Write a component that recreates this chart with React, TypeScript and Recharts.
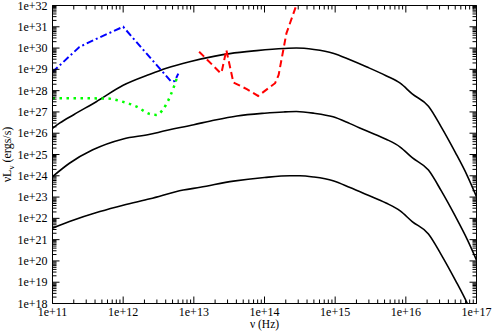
import { LineChart, Line, XAxis, YAxis } from "recharts";

// values are log10(nu [Hz]) and log10(nu L_nu [erg/s])
const nuTop = [11, 11.1, 11.3, 11.62, 12.0, 12.38, 12.61, 12.94, 13.3, 13.51, 13.89, 14.27, 14.45, 14.7, 14.97, 15.21, 15.45, 15.72, 15.92, 16.09, 16.32, 16.5, 16.7, 16.87, 17.0];
const lTop = [26.23, 26.47, 26.87, 27.48, 28.25, 28.77, 29.05, 29.36, 29.62, 29.74, 29.88, 29.98, 30.0, 29.93, 29.76, 29.45, 29.11, 28.7, 28.35, 27.85, 27.27, 26.3, 25.1, 24.0, 23.02];

const nuMid = [11, 11.24, 11.57, 12.0, 12.38, 12.52, 13.0, 13.3, 13.61, 14.0, 14.27, 14.45, 14.7, 14.97, 15.21, 15.45, 15.72, 15.92, 16.09, 16.32, 16.5, 16.7, 16.87, 17.0];
const lMid = [23.96, 24.59, 25.22, 25.73, 25.95, 26.06, 26.4, 26.62, 26.81, 26.94, 27.0, 27.02, 26.94, 26.77, 26.45, 26.1, 25.72, 25.35, 24.85, 24.27, 23.3, 22.1, 21.0, 20.04];

const nuLow = [11, 11.24, 11.67, 12.0, 12.38, 12.85, 13.09, 13.56, 14.0, 14.36, 14.5, 14.7, 14.97, 15.21, 15.45, 15.72, 15.92, 16.09, 16.32, 16.5, 16.7, 16.87, 17.0];
const lLow = [21.54, 21.85, 22.32, 22.62, 22.92, 23.33, 23.46, 23.75, 23.92, 24.0, 24.0, 23.94, 23.77, 23.45, 23.11, 22.72, 22.35, 21.85, 21.27, 20.3, 19.1, 18.0, 17.0];

const nuBlue = [11, 11.38, 11.62, 12.0, 12.68, 12.73, 12.78];
const lBlue = [28.87, 30.05, 30.43, 31.0, 28.42, 28.45, 28.8];

const nuGreen = [11, 11.4, 11.77, 11.97, 12.19, 12.38, 12.47, 12.56, 12.62, 12.67, 12.72, 12.76];
const lGreen = [27.64, 27.64, 27.63, 27.5, 27.25, 26.9, 26.86, 27.1, 27.42, 27.78, 28.2, 28.6];

const nuRed = [13.075, 13.38, 13.4, 13.46, 13.56, 13.63, 13.75, 13.91, 14.15, 14.2, 14.31, 14.46, 14.5];
const lRed = [29.83, 28.82, 28.97, 29.91, 28.38, 28.27, 28.07, 27.75, 28.35, 28.74, 30.69, 32.1, 32.5];

const xDecades = [11, 12, 13, 14, 15, 16, 17];
const yDecades = [18, 19, 20, 21, 22, 23, 24, 25, 26, 27, 28, 29, 30, 31, 32];

const toPoints = (nu: number[], l: number[]) => nu.map((n, i) => ({ nu: 10 ** n, L: 10 ** l[i] }));

// major + minor (2..9) ticks for a log axis
const logTicks = (decades: number[]) => {
  const out: number[] = [];
  decades.forEach((d, i) => {
    out.push(10 ** d);
    if (i < decades.length - 1) for (let k = 2; k <= 9; k++) out.push(k * 10 ** d);
  });
  return out;
};

const FONT = "'Liberation Serif', 'Times New Roman', serif";
const isMajor = (v: number) => Math.abs(Math.log10(v) - Math.round(Math.log10(v))) < 1e-6;
const fmt = (v: number) => `1e+${Math.round(Math.log10(v))}`;

// eslint-disable-next-line @typescript-eslint/no-explicit-any
const BottomTick = ({ x, y, payload }: any) => {
  const major = isMajor(payload.value);
  return (
    <g>
      <line x1={x} y1={y} x2={x} y2={y - (major ? 7 : 4)} stroke="#000" />
      {major && (
        <text x={x} y={y + 12.5} textAnchor="middle" fontSize={12} fontFamily={FONT} fill="#000">
          {fmt(payload.value)}
        </text>
      )}
    </g>
  );
};

// eslint-disable-next-line @typescript-eslint/no-explicit-any
const TopTick = ({ x, y, payload }: any) => (
  <line x1={x} y1={y} x2={x} y2={y + (isMajor(payload.value) ? 7 : 4)} stroke="#000" />
);

// eslint-disable-next-line @typescript-eslint/no-explicit-any
const LeftTick = ({ x, y, payload }: any) => {
  const major = isMajor(payload.value);
  return (
    <g>
      <line x1={x} y1={y} x2={x + (major ? 7 : 4)} y2={y} stroke="#000" />
      {major && (
        <text x={x - 5} y={y + 4} textAnchor="end" fontSize={12} fontFamily={FONT} fill="#000">
          {fmt(payload.value)}
        </text>
      )}
    </g>
  );
};

// eslint-disable-next-line @typescript-eslint/no-explicit-any
const RightTick = ({ x, y, payload }: any) => (
  <line x1={x} y1={y} x2={x - (isMajor(payload.value) ? 7 : 4)} y2={y} stroke="#000" />
);

// eslint-disable-next-line @typescript-eslint/no-explicit-any
const XTitle = ({ viewBox }: any) => (
  <text x={viewBox.x + viewBox.width / 2} y={328} textAnchor="middle" fontSize={11.5} fontFamily={FONT} fill="#000">
    ν (Hz)
  </text>
);

// eslint-disable-next-line @typescript-eslint/no-explicit-any
const YTitle = ({ viewBox }: any) => {
  const cy = viewBox.y + viewBox.height / 2;
  return (
    <text x={11} y={cy} transform={`rotate(-90, 11, ${cy})`} textAnchor="middle" fontSize={12} fontFamily={FONT} fill="#000">
      νL<tspan dy={3} fontSize={9}>ν</tspan>
      <tspan dy={-3}> (ergs/s)</tspan>
    </text>
  );
};

export default function App() {
  const xTicks = logTicks(xDecades);
  const yTicks = logTicks(yDecades);
  const xDomain = [10 ** xDecades[0], 10 ** xDecades[xDecades.length - 1]];
  const yDomain = [10 ** yDecades[0], 10 ** yDecades[yDecades.length - 1]];

  const curves = [
    { key: "top", data: toPoints(nuTop, lTop) },
    { key: "mid", data: toPoints(nuMid, lMid) },
    { key: "low", data: toPoints(nuLow, lLow) },
  ];

  return (
    <div style={{ position: "absolute", left: 0, top: 0, background: "#fff" }}>
      <LineChart width={493} height={332} margin={{ top: 4.5, right: 15.5, left: 0, bottom: 0 }}>
        <XAxis
          xAxisId="b"
          dataKey="nu"
          type="number"
          scale="log"
          domain={xDomain}
          allowDataOverflow
          ticks={xTicks}
          interval={0}
          tickSize={0}
          tickMargin={0}
          tick={<BottomTick />}
          height={28.5}
          axisLine={{ stroke: "#000" }}
          label={<XTitle />}
        />
        <XAxis
          xAxisId="t"
          orientation="top"
          dataKey="nu"
          type="number"
          scale="log"
          domain={xDomain}
          allowDataOverflow
          ticks={xTicks}
          interval={0}
          tickSize={0}
          tickMargin={0}
          tick={<TopTick />}
          height={1}
          axisLine={{ stroke: "#000" }}
        />
        <YAxis
          yAxisId="l"
          dataKey="L"
          type="number"
          scale="log"
          domain={yDomain}
          allowDataOverflow
          ticks={yTicks}
          interval={0}
          tickSize={0}
          tickMargin={0}
          tick={<LeftTick />}
          width={52.5}
          axisLine={{ stroke: "#000" }}
          label={<YTitle />}
        />
        <YAxis
          yAxisId="r"
          orientation="right"
          dataKey="L"
          type="number"
          scale="log"
          domain={yDomain}
          allowDataOverflow
          ticks={yTicks}
          interval={0}
          tickSize={0}
          tickMargin={0}
          tick={<RightTick />}
          width={1}
          axisLine={{ stroke: "#000" }}
        />

        {curves.map((c) => (
          <Line
            key={c.key}
            xAxisId="b"
            yAxisId="l"
            data={c.data}
            dataKey="L"
            type="monotone"
            stroke="#000"
            strokeWidth={1.6}
            dot={false}
            isAnimationActive={false}
          />
        ))}
        <Line
          xAxisId="b"
          yAxisId="l"
          data={toPoints(nuBlue, lBlue)}
          dataKey="L"
          type="linear"
          stroke="#0000ff"
          strokeWidth={2}
          strokeDasharray="7 3 2 3"
          dot={false}
          isAnimationActive={false}
        />
        <Line
          xAxisId="b"
          yAxisId="l"
          data={toPoints(nuGreen, lGreen)}
          dataKey="L"
          type="monotone"
          stroke="#00ff00"
          strokeWidth={2.5}
          strokeDasharray="2.5 4.5"
          dot={false}
          isAnimationActive={false}
        />
        <Line
          xAxisId="b"
          yAxisId="l"
          data={toPoints(nuRed, lRed)}
          dataKey="L"
          type="linear"
          stroke="#ff0000"
          strokeWidth={2}
          strokeDasharray="7 4"
          dot={false}
          isAnimationActive={false}
        />
      </LineChart>
    </div>
  );
}
